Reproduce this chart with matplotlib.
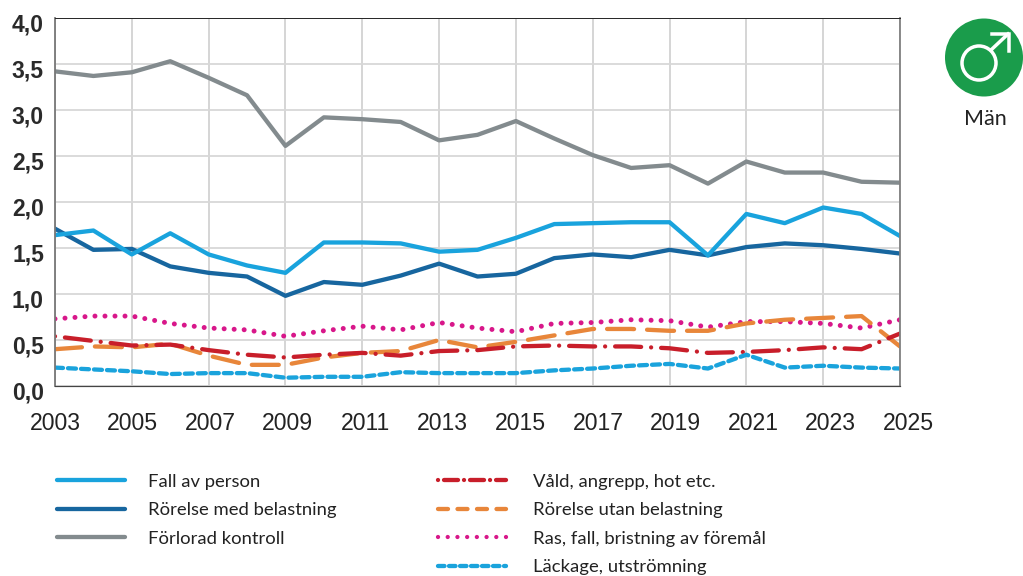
import matplotlib
matplotlib.use('Agg')
import matplotlib.pyplot as plt
from matplotlib.lines import Line2D
from matplotlib.patches import Circle
from matplotlib.transforms import ScaledTranslation

plt.rcParams['lines.scale_dashes'] = False

### data
years = list(range(2003, 2026))
fall = [1.64,1.69,1.43,1.66,1.43,1.31,1.23,1.56,1.56,1.55,1.46,1.48,1.61,1.76,1.77,1.78,1.78,1.42,1.87,1.77,1.94,1.87,1.63]
med_bel = [1.71,1.48,1.49,1.30,1.23,1.19,0.98,1.13,1.10,1.20,1.33,1.19,1.22,1.39,1.43,1.40,1.48,1.42,1.51,1.55,1.53,1.49,1.44]
kontroll = [3.42,3.37,3.41,3.53,3.35,3.16,2.61,2.92,2.90,2.87,2.67,2.73,2.88,2.69,2.51,2.37,2.40,2.20,2.44,2.32,2.32,2.22,2.21]
vald = [.54,.49,.44,.45,.39,.34,.31,.34,.36,.33,.38,.39,.43,.44,.43,.43,.41,.36,.37,.39,.42,.40,.57]
utan_bel = [.40,.43,.42,.46,.33,.23,.23,.31,.36,.38,.50,.42,.48,.55,.62,.62,.60,.60,.68,.72,.74,.76,.43]
ras = [.73,.76,.76,.68,.63,.61,.54,.60,.65,.61,.69,.63,.59,.68,.69,.72,.71,.64,.70,.70,.68,.63,.72]
lackage = [.20,.18,.16,.13,.14,.14,.09,.10,.10,.15,.14,.14,.14,.17,.19,.22,.24,.19,.34,.20,.22,.20,.19]
yticks = [0, 0.5, 1, 1.5, 2, 2.5, 3, 3.5, 4]
ylabels = ['0,0', '0,5', '1,0', '1,5', '2,0', '2,5', '3,0', '3,5', '4,0']
xticks = list(range(2003, 2026, 2))

W, H = 1023, 576
PX = 0.72  # points per pixel at dpi 100
fig = plt.figure(figsize=(W / 100, H / 100), dpi=100)
ax = fig.add_axes([55 / W, 1 - 386 / H, 845 / W, 368 / H])

ax.set_xlim(2003, 2025)
ax.set_ylim(0, 4)
ax.set_xticks(xticks)
ax.set_yticks(yticks, ylabels)
ax.grid(True, axis='y', color='#d8d8d8', lw=1.8 * PX)
ax.grid(True, axis='x', color='#cfcfcf', lw=1.7 * PX)
ax.set_axisbelow(True)
ax.tick_params(length=0)
ax.tick_params(axis='x', pad=19, labelsize=16.6, labelcolor='#222222')
ax.tick_params(axis='y', pad=8, labelsize=16.5, labelcolor='#2a2a2a')
# the year labels drift right of their gridlines in the original, 8 px by 2025
for year, lab in zip(xticks, ax.get_xticklabels()):
    lab.set_family('Liberation Sans')
    drift = ScaledTranslation((year - xticks[0]) * 0.37 / 100, 0, fig.dpi_scale_trans)
    lab.set_transform(lab.get_transform() + drift)
# the y labels sit a little under their gridlines in the original
down = ScaledTranslation(0, -4.5 / 100, fig.dpi_scale_trans)
for lab in ax.get_yticklabels():
    lab.set_family('Liberation Sans')
    lab.set_fontweight('bold')
    lab.set_transform(lab.get_transform() + down)
ax.spines['left'].set(color='#777777', lw=1.8 * PX)
ax.spines['right'].set(color='#808080', lw=1.8 * PX)
ax.spines['top'].set(color='#2a2a2a', lw=1 * PX)
ax.spines['bottom'].set(color='#444444', lw=1.2 * PX)

LW = 4.3 * PX
styles = {
    'kontroll': dict(color='#838b8e', lw=LW),
    'med': dict(color='#17669f', lw=LW),
    'fall': dict(color='#19a3dd', lw=LW),
    'ras': dict(color='#d8178a', lw=5 * PX, ls=(0, (0.01, 10 * PX)), dash_capstyle='round'),
    'utan': dict(color='#e8863a', lw=LW, ls=(0, (27 * PX, 13 * PX)), dash_capstyle='round'),
    'vald': dict(color='#c81e2a', lw=LW, ls=(0, (0.01, 10 * PX, 26 * PX, 10 * PX)), dash_capstyle='round'),
    'lack': dict(color='#1aa3dc', lw=LW, ls=(0, (8 * PX, 5 * PX)), dash_capstyle='round'),
}
ax.plot(years, kontroll, **styles['kontroll'])
ax.plot(years, med_bel, **styles['med'])
ax.plot(years, fall, **styles['fall'])
ax.plot(years, ras, **styles['ras'])
ax.plot(years, utan_bel, **styles['utan'])
ax.plot(years, vald, **styles['vald'])
ax.plot(years, lackage, **styles['lack'])

### legends, the keys have tighter dashes than the lines in the chart
leg_font = dict(family='Lato', size=13.3)
key_left = [
    Line2D([], [], solid_capstyle='round', **styles['fall']),
    Line2D([], [], solid_capstyle='round', **styles['med']),
    Line2D([], [], solid_capstyle='round', **styles['kontroll']),
]
key_right = [
    Line2D([], [], color=styles['vald']['color'], lw=LW, ls=(0, (0.01, 6 * PX, 14 * PX, 6 * PX)), dash_capstyle='round'),
    Line2D([], [], color=styles['utan']['color'], lw=LW, ls=(0, (10 * PX, 9.5 * PX)), dash_capstyle='round'),
    Line2D([], [], color=styles['ras']['color'], lw=LW, ls=(0, (0.01, 9.7 * PX)), dash_capstyle='round'),
    Line2D([], [], color=styles['lack']['color'], lw=LW, ls=(0, (6.5 * PX, 4.5 * PX)), dash_capstyle='round'),
]
common = dict(frameon=False, prop=leg_font, handlelength=3.68,
              labelspacing=0.68, borderpad=0, borderaxespad=0, loc='upper left',
              labelcolor='#222222')
fig.legend(key_left, ['Fall av person', 'Rörelse med belastning', 'Förlorad kontroll'],
           bbox_to_anchor=(57 / W, 1 - 473.5 / H), handletextpad=1.25, **common)
fig.legend(key_right, ['Våld, angrepp, hot etc.', 'Rörelse utan belastning',
                       'Ras, fall, bristning av föremål', 'Läckage, utströmning'],
           bbox_to_anchor=(438 / W, 1 - 473.5 / H), handletextpad=1.47, **common)

### male icon top right, drawn in its own pixel sized axes
icon = fig.add_axes([945 / W, 1 - 98 / H, 80 / W, 80 / H])
icon.set_xlim(0, 80)
icon.set_ylim(80, 0)
icon.axis('off')
icon.add_patch(Circle((39, 39.5), 39, color='#1a9c4b', lw=0))
icon.add_patch(Circle((34, 45), 17, fc='none', ec='white', lw=3.5 * PX))
icon.plot([46, 63], [32, 16], color='white', lw=3.5 * PX)
icon.plot([47, 63.5, 63.5], [16, 16, 33], color='white', lw=3.5 * PX, solid_joinstyle='miter')
fig.text(985 / W, 1 - 119 / H, 'Män', family='Lato', fontsize=15.5, color='#222222',
         ha='center', va='center')

fig.savefig('out.png', dpi=100)
